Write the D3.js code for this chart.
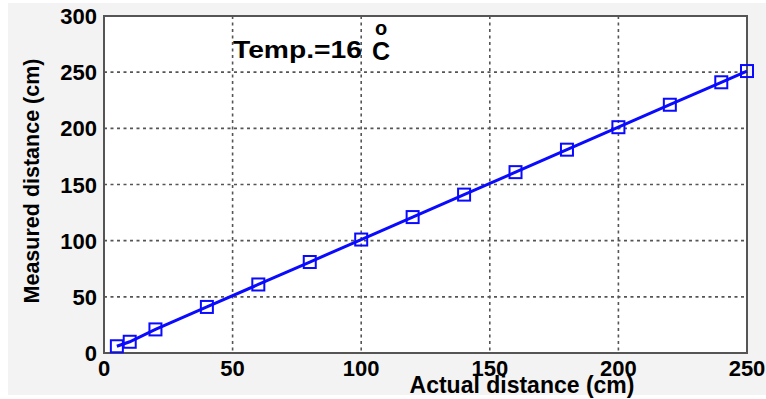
<!DOCTYPE html>
<html lang="en">
<head>
    <meta charset="UTF-8">
    <title>Measured vs actual distance</title>
    <style>
        body { margin: 0; background: #fff; }
        svg { font-family: "Liberation Sans", Arial, sans-serif; font-weight: bold; }
        .grid line { stroke: #555; stroke-width: 1.6; stroke-dasharray: 3,3.5; }
        .tick-label { font-size: 22px; fill: #000; }
    </style>
</head>
<body>
<div id="chart"></div>
<script src="https://d3js.org/d3.v7.min.js"></script>
<script>

    // data
    var actual   = [5, 10, 20, 40, 60, 80, 100, 120, 140, 160, 180, 200, 220, 240, 250];
    var measured = [6, 10, 21, 41, 61, 81, 101, 121, 141, 161, 181, 201, 221, 241, 251];
    var xTicks = [0, 50, 100, 150, 200, 250];
    var yTicks = [0, 50, 100, 150, 200, 250, 300];

    var width = 766, height = 399;
    var plot = {left: 104, right: 747, top: 16, bottom: 353};

    var svg = d3.select("#chart").append("svg")
            .attr("width", width)
            .attr("height", height);

    // light grey figure background
    svg.append("rect")
            .attr("x", 8).attr("y", 3)
            .attr("width", 758).attr("height", 392)
            .attr("fill", "#f3f3f3");

    var x = d3.scaleLinear().domain([0, 250]).range([plot.left, plot.right]);
    var y = d3.scaleLinear().domain([0, 300]).range([plot.bottom, plot.top]);

    svg.append("rect")
            .attr("x", plot.left).attr("y", plot.top)
            .attr("width", plot.right - plot.left)
            .attr("height", plot.bottom - plot.top)
            .attr("fill", "#fff");

    // dotted grid
    var grid = svg.append("g").attr("class", "grid");
    grid.selectAll(".gx")
            .data(xTicks.slice(1, -1))
            .enter().append("line")
            .attr("x1", function(d) { return x(d); })
            .attr("x2", function(d) { return x(d); })
            .attr("y1", plot.top).attr("y2", plot.bottom);
    grid.selectAll(".gy")
            .data(yTicks.slice(1, -1))
            .enter().append("line")
            .attr("y1", function(d) { return y(d); })
            .attr("y2", function(d) { return y(d); })
            .attr("x1", plot.left).attr("x2", plot.right);

    // frame
    svg.append("rect")
            .attr("x", plot.left).attr("y", plot.top)
            .attr("width", plot.right - plot.left)
            .attr("height", plot.bottom - plot.top)
            .attr("fill", "none")
            .attr("stroke", "#555")
            .attr("stroke-width", 2);

    // tick labels
    svg.selectAll(".xl")
            .data(xTicks)
            .enter().append("text")
            .attr("class", "tick-label")
            .attr("x", function(d) { return x(d); })
            .attr("y", plot.bottom + 23)
            .attr("text-anchor", "middle")
            .text(function(d) { return d; });

    svg.selectAll(".yl")
            .data(yTicks)
            .enter().append("text")
            .attr("class", "tick-label")
            .attr("x", plot.left - 7)
            .attr("y", function(d) { return y(d) + 8; })
            .attr("text-anchor", "end")
            .text(function(d) { return d; });

    // axis titles
    svg.append("text")
            .attr("x", 522).attr("y", 393)
            .attr("text-anchor", "middle")
            .style("font-size", "23px")
            .text("Actual distance (cm)");

    svg.append("text")
            .attr("transform", "translate(39,181) rotate(-90)")
            .attr("text-anchor", "middle")
            .style("font-size", "21.5px")
            .text("Measured distance (cm)");

    // annotation
    svg.append("text")
            .attr("x", 233).attr("y", 58)
            .style("font-size", "24px")
            .attr("textLength", 129)
            .attr("lengthAdjust", "spacingAndGlyphs")
            .text("Temp.=16");
    svg.append("text")
            .attr("x", 372).attr("y", 60)
            .style("font-size", "25px")
            .text("C");
    svg.append("text")
            .attr("x", 381).attr("y", 35)
            .attr("text-anchor", "middle")
            .style("font-size", "20px")
            .text("o");

    // series
    var pts = actual.map(function(d, i) { return {x: d, y: measured[i]}; });

    svg.append("path")
            .datum(pts)
            .attr("fill", "none")
            .attr("stroke", "#0a0aff")
            .attr("stroke-width", 3)
            .attr("d", d3.line()
                    .x(function(d) { return x(d.x); })
                    .y(function(d) { return y(d.y); }));

    var s = 12;
    svg.selectAll(".marker")
            .data(pts)
            .enter().append("rect")
            .attr("x", function(d) { return x(d.x) - s / 2; })
            .attr("y", function(d) { return y(d.y) - s / 2; })
            .attr("width", s).attr("height", s)
            .attr("fill", "none")
            .attr("stroke", "#0a0aff")
            .attr("stroke-width", 2);

</script>
</body>
</html>
